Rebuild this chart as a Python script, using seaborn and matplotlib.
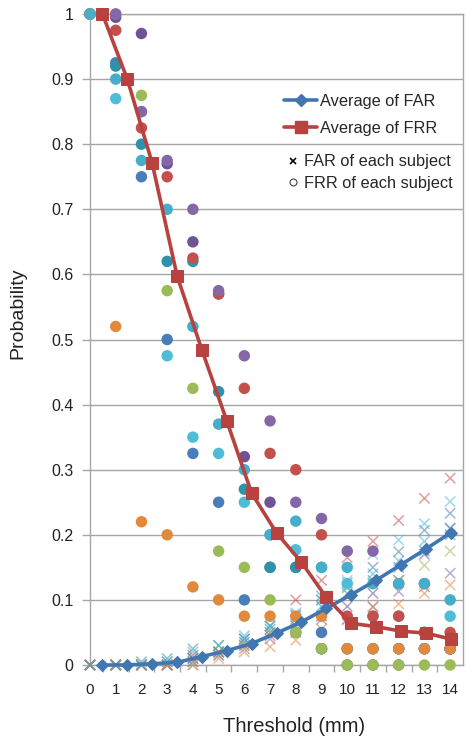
import matplotlib
matplotlib.use('Agg')
import matplotlib.pyplot as plt
from matplotlib.lines import Line2D
import pandas as pd
import seaborn as sns

# Threshold categories (mm)
thresholds = list(range(15))
tick_labels = [str(t) for t in thresholds]
y_ticks = [0, 0.1, 0.2, 0.3, 0.4, 0.5, 0.6, 0.7, 0.8, 0.9, 1]
y_tick_labels = ['0', '0.1', '0.2', '0.3', '0.4', '0.5', '0.6', '0.7', '0.8', '0.9', '1']

# Averages
far_avg = [0.0, 0.0, 0.002, 0.004, 0.013, 0.022, 0.033, 0.049, 0.066, 0.087, 0.108, 0.13, 0.154, 0.178, 0.203]
frr_avg = [1.0, 0.90, 0.771, 0.598, 0.484, 0.375, 0.264, 0.203, 0.158, 0.104, 0.064, 0.059, 0.052, 0.049, 0.04]

# FRR of each subject
frr_blue    = [1, 0.925, 0.75, 0.50, 0.325, 0.25, 0.10, 0.15, 0.05, 0.05, 0.025, 0.025, 0, 0.025, 0.025]
frr_dpurple = [1, 0.995, 0.97, 0.77, 0.65, 0.57, 0.32, 0.25, 0.15, 0.025, 0, 0, 0.025, 0.025, 0.025]
frr_teal    = [1, 0.92, 0.80, 0.62, 0.62, 0.42, 0.27, 0.15, 0.15, 0.025, 0.025, 0.025, 0.025, 0.05, 0.025]
frr_lcyan   = [1, 0.87, 0.85, 0.475, 0.35, 0.325, 0.25, 0.20, 0.177, 0.15, 0.125, 0.075, 0.075, 0.025, 0.075]
frr_red     = [1, 0.975, 0.825, 0.75, 0.625, 0.57, 0.425, 0.325, 0.30, 0.20, 0.075, 0.075, 0.075, 0.05, 0.05]
frr_green   = [1, 1, 0.875, 0.575, 0.425, 0.175, 0.15, 0.10, 0.05, 0.025, 0, 0, 0, 0, 0]
frr_purple  = [1, 1, 0.85, 0.775, 0.70, 0.575, 0.475, 0.375, 0.25, 0.225, 0.175, 0.175, 0.125, 0.125, 0.025]
frr_orange  = [1, 0.52, 0.22, 0.20, 0.12, 0.10, 0.075, 0.075, 0.075, 0.075, 0.025, 0.025, 0.025, 0.025, 0.025]
frr_cyan    = [1, 0.90, 0.775, 0.70, 0.52, 0.37, 0.30, 0.20, 0.221, 0.15, 0.15, 0.125, 0.125, 0.125, 0.10]

# FAR of each subject
far_blue    = [0, 0, 0, 0.005, 0.01, 0.02, 0.04, 0.06, 0.077, 0.106, 0.126, 0.15, 0.174, 0.207, 0.233]
far_dpurple = [0, 0, 0, 0, 0.01, 0.02, 0.035, 0.05, 0.06, 0.075, 0.09, 0.11, 0.13, 0.17, 0.21]
far_teal    = [0, 0, 0.005, 0.01, 0.025, 0.03, 0.04, 0.055, 0.07, 0.09, 0.11, 0.13, 0.15, 0.175, 0.20]
far_lcyan   = [0, 0, 0, 0, 0, 0.015, 0.04, 0.06, 0.075, 0.10, 0.13, 0.17, 0.192, 0.217, 0.251]
far_red     = [0, 0, 0, 0, 0.015, 0.02, 0.03, 0.045, 0.10, 0.13, 0.165, 0.19, 0.222, 0.256, 0.287]
far_green   = [0, 0, 0, 0, 0.005, 0.02, 0.03, 0.05, 0.07, 0.10, 0.118, 0.125, 0.13, 0.153, 0.175]
far_purple  = [0, 0, 0, 0, 0.005, 0.015, 0.025, 0.04, 0.05, 0.07, 0.07, 0.089, 0.113, 0.12, 0.141]
far_orange  = [0, 0, 0, 0, 0, 0.01, 0.02, 0.028, 0.038, 0.055, 0.07, 0.09, 0.094, 0.11, 0.123]
far_cyan    = [0, 0, 0, 0.005, 0.02, 0.03, 0.045, 0.06, 0.08, 0.10, 0.12, 0.14, 0.16, 0.19, 0.21]

subject_names = ['blue', 'dpurple', 'teal', 'lcyan', 'red', 'green', 'purple', 'orange', 'cyan']
subject_colors = ['#4A7EBB', '#6E5494', '#2E93AA', '#4FBDD7', '#C4504D', '#9BBB59', '#8567A8', '#E2893B', '#45AECB']
frr_lists = [frr_blue, frr_dpurple, frr_teal, frr_lcyan, frr_red, frr_green, frr_purple, frr_orange, frr_cyan]
far_lists = [far_blue, far_dpurple, far_teal, far_lcyan, far_red, far_green, far_purple, far_orange, far_cyan]

far_color = '#4177B1'
frr_color = '#B7423F'
grid_color = '#A6A6A6'

rows = []
for name, frr_vals, far_vals in zip(subject_names, frr_lists, far_lists):
    for t, fr, fa in zip(thresholds, frr_vals, far_vals):
        rows.append({'threshold': t, 'subject': name, 'FRR': fr, 'FAR': fa})
df = pd.DataFrame(rows)
avg = pd.DataFrame({'step': thresholds, 'FAR': far_avg, 'FRR': frr_avg})
palette = dict(zip(subject_names, subject_colors))

sns.set_style('ticks')
plt.rcParams['font.family'] = ['Liberation Sans', 'DejaVu Sans']

fig = plt.figure(figsize=(4.67, 7.38), dpi=100)
ax = fig.add_axes([90 / 467, 73 / 738, 373 / 467, 651 / 738])

# subject points
sns.scatterplot(data=df, x='threshold', y='FAR', hue='subject', palette=palette, marker='x',
                s=55, linewidth=1.1, alpha=0.55, legend=False, ax=ax, clip_on=False, zorder=3)
sns.scatterplot(data=df, x='threshold', y='FRR', hue='subject', palette=palette, marker='o',
                s=68, linewidth=0, legend=False, ax=ax, clip_on=False, zorder=4)

ax.set_xlim(0, 14.5)
ax.set_ylim(0, 1)
ax.set_xticks(thresholds)
ax.set_xticklabels(tick_labels)
ax.set_xticks([t + 0.5 for t in thresholds[:-1]], minor=True)
ax.set_yticks(y_ticks)
ax.set_yticklabels(y_tick_labels)
ax.tick_params(axis='x', which='major', length=0, pad=13, labelsize=11, labelcolor='#222222')
ax.tick_params(axis='x', which='minor', length=5, color=grid_color, width=1)
ax.tick_params(axis='y', length=6, color=grid_color, width=1, pad=6, labelsize=11.5, labelcolor='#222222')
ax.grid(axis='y', color=grid_color, lw=1)
ax.set_axisbelow(True)
for sp in ax.spines.values():
    sp.set_color(grid_color)
    sp.set_linewidth(1)

ax.set_xlabel('Threshold (mm)', fontsize=14.5, color='#222222')
ax.xaxis.set_label_coords(0.547, -0.08)
ax.set_ylabel('Probability', fontsize=14, color='#222222')
ax.yaxis.set_label_coords(-0.17, 0.54)

# averages on a category axis
ax2 = ax.twiny()
sns.lineplot(data=avg, x='step', y='FAR', color=far_color, marker='D', markersize=6.5,
             markeredgecolor=far_color, lw=2.6, ax=ax2, clip_on=False)
sns.lineplot(data=avg, x='step', y='FRR', color=frr_color, marker='s', markersize=9,
             markeredgecolor=frr_color, lw=2.6, ax=ax2, clip_on=False)
ax2.set_xlim(-0.5, 14.5)
ax2.set_ylim(0, 1)
ax2.set_axis_off()

h1 = [Line2D([], [], color=far_color, marker='D', markersize=6.5, lw=2.6),
      Line2D([], [], color=frr_color, marker='s', markersize=9, lw=2.6)]
leg1 = ax2.legend(h1, ['Average of FAR', 'Average of FRR'], loc='upper left',
                  bbox_to_anchor=(0.499, 0.89), frameon=False, fontsize=11.8,
                  handlelength=2.0, handletextpad=0.15, borderpad=0, labelspacing=0.75)
ax2.add_artist(leg1)
h2 = [Line2D([], [], color='black', marker='x', markersize=5, lw=0, mew=1.2),
      Line2D([], [], color='#444444', marker='o', markersize=5, lw=0, mfc='none', mew=0.8)]
ax2.legend(h2, ['FAR of each subject', 'FRR of each subject'], loc='upper left',
           bbox_to_anchor=(0.51, 0.797), frameon=False, fontsize=11.8,
           handlelength=0.5, handletextpad=0.45, borderpad=0, labelspacing=0.38)

fig.savefig('out.png', dpi=100)
